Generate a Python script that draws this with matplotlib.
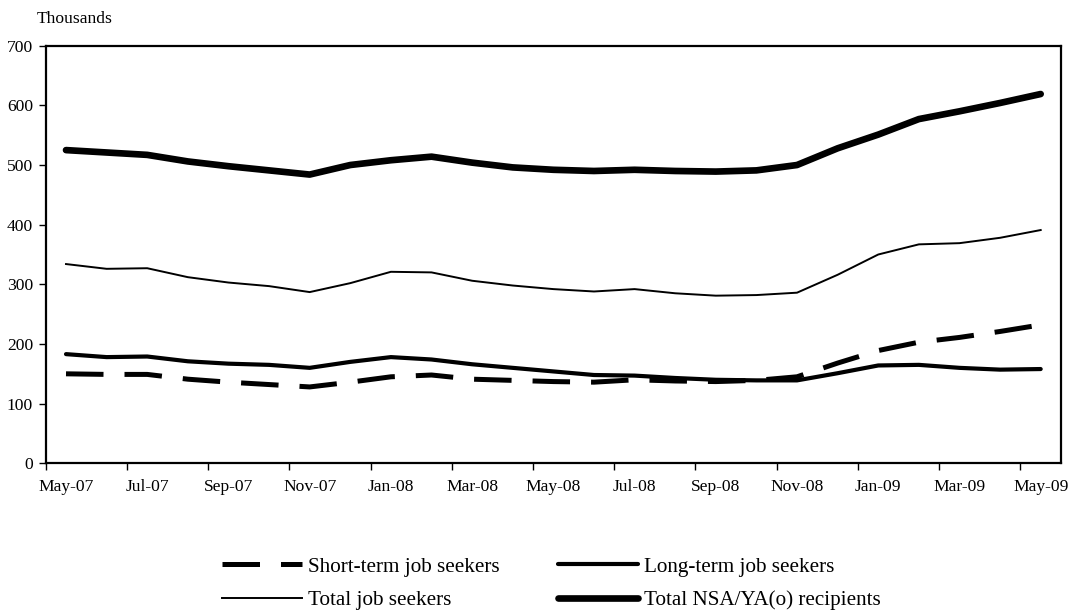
import matplotlib
matplotlib.use("Agg")
import matplotlib.pyplot as plt
import numpy as np

months = ["May-07", "Jun-07", "Jul-07", "Aug-07", "Sep-07", "Oct-07", "Nov-07", "Dec-07",
          "Jan-08", "Feb-08", "Mar-08", "Apr-08", "May-08", "Jun-08", "Jul-08", "Aug-08",
          "Sep-08", "Oct-08", "Nov-08", "Dec-08", "Jan-09", "Feb-09", "Mar-09", "Apr-09", "May-09"]

short_term = [150, 149, 149, 141, 136, 132, 128, 136, 145, 148, 141, 139, 137,
              136, 140, 138, 137, 139, 145, 168, 189, 203, 211, 221, 232]
long_term = [183, 178, 179, 171, 167, 165, 160, 170, 178, 174, 166, 160, 154,
             148, 147, 143, 140, 139, 139, 151, 164, 165, 160, 157, 158]
total_seekers = [334, 326, 327, 312, 303, 297, 287, 302, 321, 320, 306, 298, 292,
                 288, 292, 285, 281, 282, 286, 316, 350, 367, 369, 378, 391]
total_nsa = [525, 521, 517, 506, 498, 491, 484, 500, 508, 514, 504, 496, 492,
             490, 492, 490, 489, 491, 500, 528, 551, 577, 590, 604, 619]

labels = ["Short-term job seekers", "Long-term job seekers",
          "Total job seekers", "Total NSA/YA(o) recipients"]

plt.rcParams['font.family'] = ['Liberation Serif', 'DejaVu Serif']

fig = plt.figure(figsize=(10.7, 6.16), dpi=100)
ax = fig.add_axes([45.7/1070, 1-463.3/616, (1061-45.7)/1070, (463.3-45.7)/616])

x = np.arange(len(months))
l_short, = ax.plot(x, short_term, color='black', lw=3.6, dashes=(7.5, 4.2),
                   dash_capstyle='butt', label=labels[0])
l_long, = ax.plot(x, long_term, color='black', lw=3.0, solid_capstyle='round', label=labels[1])
l_tot, = ax.plot(x, total_seekers, color='black', lw=1.4, label=labels[2])
l_nsa, = ax.plot(x, total_nsa, color='black', lw=4.8, solid_capstyle='round', label=labels[3])

ax.set_xlim(-0.5, len(months) - 0.5)
ax.set_ylim(0, 700)
ax.set_yticks(np.arange(0, 701, 100))
ax.tick_params(axis='y', direction='out', length=5, width=1, labelsize=12.6, pad=4)

ax.set_xticks(np.arange(-0.5, len(months) - 1, 2))
ax.set_xticklabels([])
ax.set_xticks(x[::2], minor=True)
ax.set_xticklabels(months[::2], minor=True)
ax.tick_params(axis='x', which='major', direction='out', length=5, width=1)
ax.tick_params(axis='x', which='minor', length=0, labelsize=12.6, pad=11)

for s in ax.spines.values():
    s.set_linewidth(1.6)
    s.set_color('black')

fig.text(37/1070, 1-19/616, "Thousands", fontsize=12.6, va='center', ha='left')

leg = fig.legend([l_short, l_tot, l_long, l_nsa],
                 [labels[0], labels[2], labels[1], labels[3]],
                 ncol=2, loc='upper left', bbox_to_anchor=(222/1070, 1-557/616),
                 frameon=False, fontsize=15.2, handlelength=3.8, handletextpad=0.25,
                 columnspacing=2.8, labelspacing=0.65, borderpad=0, borderaxespad=0)

fig.savefig("out.png", dpi=100)
